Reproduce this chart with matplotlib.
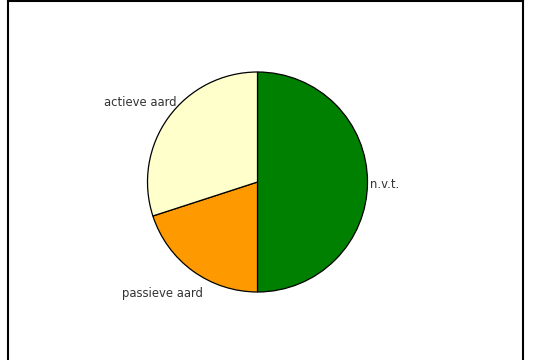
import numpy as np
import matplotlib
matplotlib.use('Agg')
import matplotlib.pyplot as plt
from matplotlib.lines import Line2D

labels = ['n.v.t.', 'passieve aard', 'actieve aard']
values = [50, 20, 30]
colors = ['#008000', '#FF9900', '#FFFFCC']

# label anchors in pixels (x, y from top), and alignment
label_pos = [(370, 184, 'left'), (203, 293, 'right'), (176, 103, 'right')]

W, H = 536, 360
fig = plt.figure(figsize=(W / 100, H / 100), dpi=100)
ax = fig.add_axes([0, 0, 1, 1])

ax.pie(values, colors=colors, startangle=90, counterclock=False,
       center=(257.5, H - 182), radius=110, frame=True,
       wedgeprops=dict(edgecolor='black', linewidth=0.9))
ax.set_xlim(0, W)
ax.set_ylim(0, H)
ax.set_aspect('equal')
ax.axis('off')

for lab, (x, y, ha) in zip(labels, label_pos):
    ax.text(x, H - y, lab, ha=ha, va='center', fontsize=8.4, color='#333333',
            family='DejaVu Sans')

# frame: left, top, right
for xs, ys in [((7.5, 7.5), (0, H - 0.5)), ((7.5, 522.5), (H - 0.5, H - 0.5)),
               ((522.5, 522.5), (0, H - 0.5))]:
    ax.add_line(Line2D(xs, ys, color='black', linewidth=1.5))

fig.savefig('out.png', dpi=100)
